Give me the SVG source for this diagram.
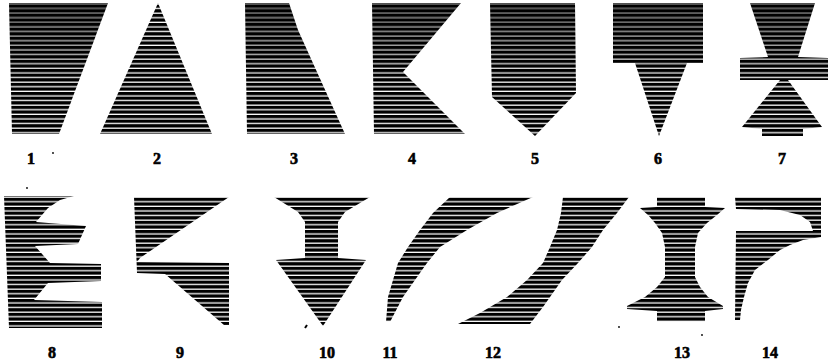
<svg xmlns="http://www.w3.org/2000/svg" width="834" height="364" viewBox="0 0 834 364">
<defs>
<pattern id="st" patternUnits="userSpaceOnUse" width="8" height="4.6">
<rect x="0" y="0" width="8" height="3.3" fill="#000"/>
</pattern>
<pattern id="gp" patternUnits="userSpaceOnUse" width="8" height="4.6">
<rect x="0" y="3.3" width="8" height="1.3" fill="#000"/>
</pattern>
<linearGradient id="fade" gradientUnits="userSpaceOnUse" x1="0" y1="0" x2="0" y2="85">
<stop offset="0" stop-color="#fff" stop-opacity="0.8"/>
<stop offset="1" stop-color="#fff" stop-opacity="0"/>
</linearGradient>
<mask id="m1" maskUnits="userSpaceOnUse" x="0" y="0" width="834" height="364">
<rect width="834" height="364" fill="url(#fade)"/>
</mask>
<polygon id="p1" points="9,3 108,3 59,134 12,134"/>
<polygon id="p3" points="245,3 289,3 298,30 345,134 247,134"/>
<polygon id="p4" points="372,3 461,3 403,72 465,134 374,134"/>
<polygon id="p5" points="490,3 575,3 576,93 535,136 492,97"/>
<polygon id="p6" points="613,3 703,3 703,63 687,63 659,136 635,63 613,63"/>
<polygon id="p7" points="750,3 815,3 798,57 828,58 828,80 788,80 822,127 803,129 803,136 762,136 762,129 742,127 780,80 740,80 740,58 768,57"/>
</defs>
<style>
.f{fill:url(#st);stroke:none}
.g{fill:url(#gp);stroke:none}
.lbl{font-family:"Liberation Serif","DejaVu Serif",serif;font-weight:bold;font-size:16px;text-anchor:middle;fill:#000;stroke:#000;stroke-width:0.6}
.sp{fill:#000}
</style>
<rect width="834" height="364" fill="#fff"/>
<g id="fig1"><use href="#p1" class="f"/><use href="#p1" class="g" mask="url(#m1)"/><text class="lbl" x="31" y="164">1</text><circle class="sp" cx="53" cy="153" r="0.9"/></g>
<g id="fig2"><polygon class="f" points="158,3 212,134 100,134"/><text class="lbl" x="157" y="164">2</text></g>
<g id="fig3"><use href="#p3" class="f"/><use href="#p3" class="g" mask="url(#m1)"/><text class="lbl" x="294" y="164">3</text></g>
<g id="fig4"><use href="#p4" class="f"/><use href="#p4" class="g" mask="url(#m1)"/><text class="lbl" x="412" y="164">4</text></g>
<g id="fig5"><use href="#p5" class="f"/><use href="#p5" class="g" mask="url(#m1)"/><text class="lbl" x="535" y="164">5</text></g>
<g id="fig6"><use href="#p6" class="f"/><use href="#p6" class="g" mask="url(#m1)"/><text class="lbl" x="658" y="164">6</text></g>
<g id="fig7"><use href="#p7" class="f"/><use href="#p7" class="g" mask="url(#m1)"/><text class="lbl" x="782" y="164">7</text></g>
<g id="fig8"><polygon class="f" points="4,196 74,196 60,200 48,208 36,222 86,226 78,244 35,246 50,263 101,264 101,281 48,283 34,300 102,302 102,328 9,328"/><circle class="sp" cx="27" cy="188" r="0.9"/><text class="lbl" x="52" y="358">8</text></g>
<g id="fig9"><polygon class="f" points="134,197 229,197 140,258 137,262 229,263 229,325 224,325 165,274 137,273"/><text class="lbl" x="180" y="358">9</text></g>
<g id="fig10"><polygon class="f" points="274,197 370,197 345,212 338,222 338,258 366,260 323,326 276,260 305,258 305,222 298,212"/><path d="M305,328 L307,325" stroke="#000" stroke-width="2"/><text class="lbl" x="327" y="358">10</text></g>
<g id="fig11"><polygon class="f" points="450,197 533,197 497,213 467,230 440,247 427,263 415,280 403,297 390,322 386,322 388,297 393,280 398,263 408,247 420,230 433,213"/><text class="lbl" x="390" y="358">11</text></g>
<g id="fig12"><polygon class="f" points="563,197 629,197 617,213 603,230 592,247 578,263 562,280 543,307 530,324 458,324 480,313 507,297 527,280 543,263 550,247 557,230 561,213"/><circle class="sp" cx="619" cy="327" r="0.9"/><text class="lbl" x="493" y="358">12</text></g>
<g id="fig13"><polygon class="f" points="657,197 705,197 705,207 725,208 717,215 707,223 698,233 695,247 695,277 700,287 708,297 723,306 723,309 705,311 705,322 657,322 657,311 627,309 627,306 645,297 657,287 665,277 665,247 662,233 655,223 648,215 640,208 657,207"/><circle class="sp" cx="702" cy="335" r="0.9"/><text class="lbl" x="682" y="358">13</text></g>
<g id="fig14"><polygon class="f" points="735,197 821,197 821,237 803,240 790,245 780,250 768,260 755,270 748,283 744,297 741,310 740,320 735,320 736,231 813,231 810,222 800,215 780,210 736,209"/><text class="lbl" x="770" y="358">14</text></g>
</svg>
